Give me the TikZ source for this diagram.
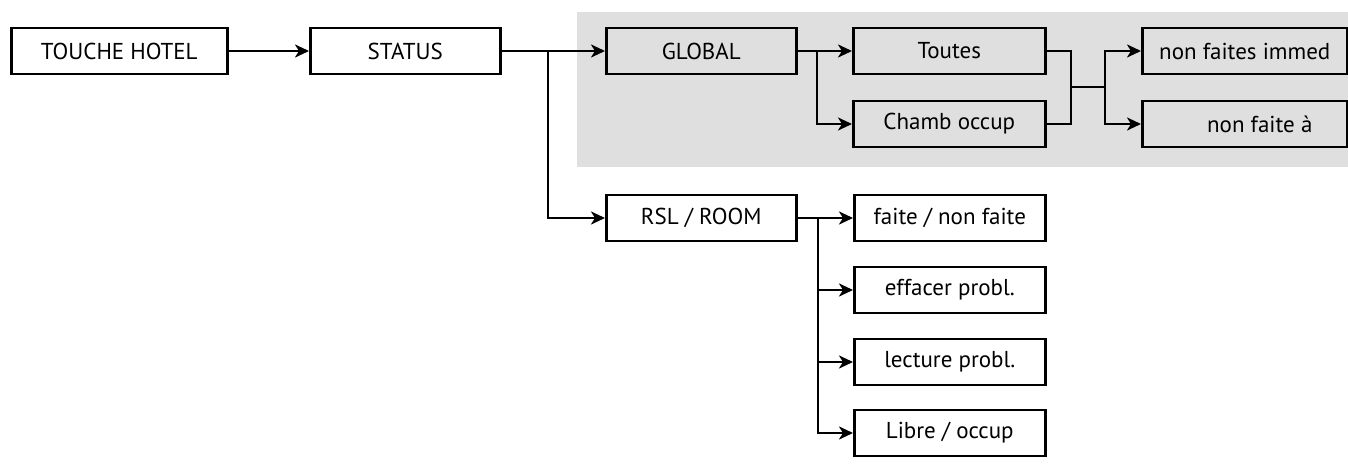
\documentclass[tikz,border=0pt]{standalone}
\usepackage{fontspec}
\setmainfont{PT Sans}
\usetikzlibrary{arrows.meta}
\begin{document}
\begin{tikzpicture}[x=1pt,y=-1pt,
  bx/.style={draw,line width=2.5pt,minimum height=46pt,inner sep=0pt,font=\fontsize{23}{26}\selectfont,anchor=west},
  gb/.style={bx,fill=gray!25},
  ar/.style={line width=2.5pt,-{Stealth[length=14pt,width=13pt,inset=4pt]}},
  ln/.style={line width=2.5pt}]
\useasboundingbox (0,0) rectangle (1348,465);
\fill[gray!25] (577,12) rectangle (1348,167);
\node[bx,minimum width=216pt] (th) at (10,51) {TOUCHE HOTEL};
\node[bx,minimum width=190pt] (st) at (309,51) {STATUS};
\node[gb,minimum width=190pt] (gl) at (605,51) {GLOBAL};
\node[gb,minimum width=192pt] (to) at (852,51) {Toutes};
\node[gb,minimum width=192pt] (ch) at (852,124) {Chamb occup};
\node[gb,minimum width=205pt] (nf) at (1141,51) {non faites immed};
\node[gb,minimum width=205pt] (na) at (1141,124) {\hspace*{30pt}non faite à};
\node[bx,minimum width=190pt] (rs) at (605,218) {RSL / ROOM};
\node[bx,minimum width=191pt] (r1) at (853,218) {faite / non faite};
\node[bx,minimum width=191pt] (r2) at (853,290) {effacer probl.};
\node[bx,minimum width=191pt] (r3) at (853,362) {lecture probl.};
\node[bx,minimum width=191pt] (r4) at (853,433) {Libre / occup};
\coordinate (b1) at (548,51);
\coordinate (b2) at (817,51);
\coordinate (j) at (1071,87);
\coordinate (b3) at (1105,87);
\coordinate (b4) at (818,218);
\draw[ar] (th) -- (st);
\draw[ln] (st.east) -- (b1);
\draw[ar] (b1) -- (gl);
\draw[ar] (b1) |- (rs);
\draw[ln] (gl.east) -- (b2);
\draw[ar] (b2) -- (to);
\draw[ar] (b2) |- (ch);
\draw[ln] (to.east) -| (j);
\draw[ln] (ch.east) -| (j);
\draw[ln] (j) -- (b3);
\draw[ar] (b3) |- (nf);
\draw[ar] (b3) |- (na);
\draw[ln] (rs.east) -- (b4);
\draw[ar] (b4) -- (r1);
\draw[ar] (b4) |- (r2);
\draw[ar] (b4) |- (r3);
\draw[ar] (b4) |- (r4);
\end{tikzpicture}
\end{document}
